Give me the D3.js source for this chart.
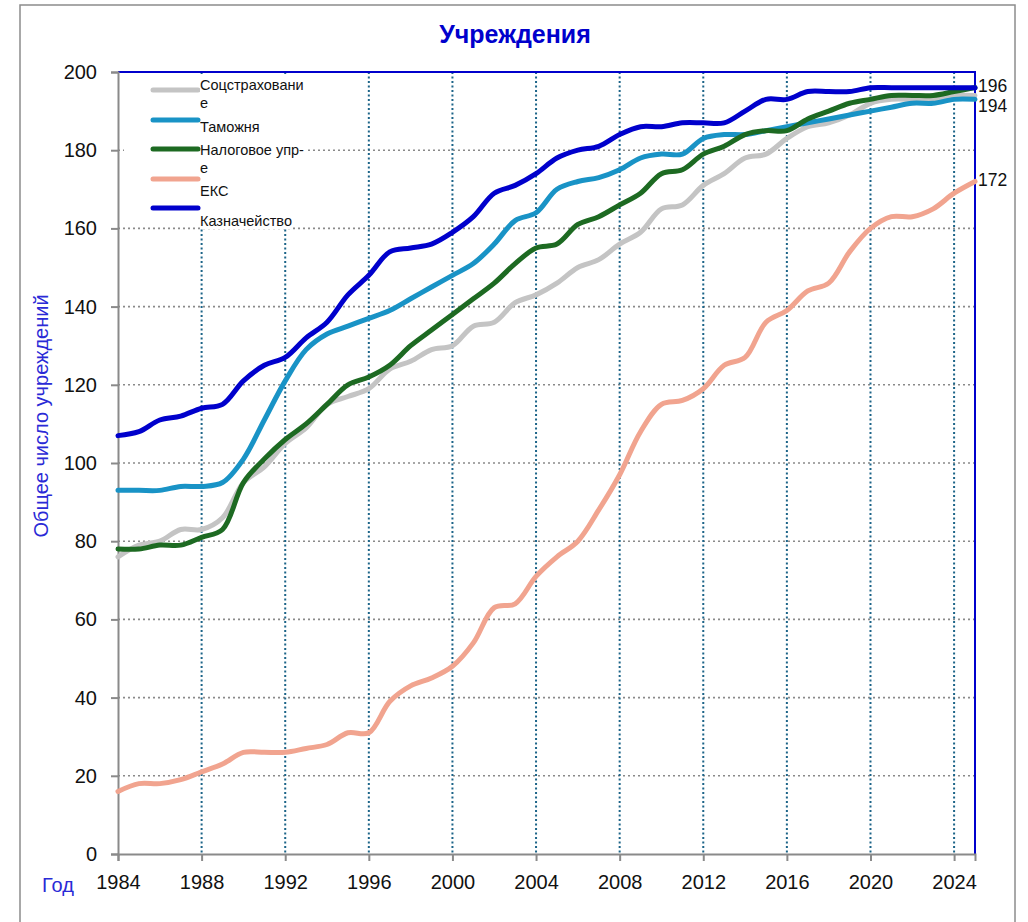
<!DOCTYPE html>
<html>
<head>
<meta charset="utf-8">
<script src="https://cdn.jsdelivr.net/npm/d3@7"></script>
<style>
  html, body { margin: 0; padding: 0; background: #fff; }
  svg { display: block; font-family: "Liberation Sans", Arial, sans-serif; }
</style>
</head>
<body>
<div id="chart"></div>
<script>
/* =========================================
   Учреждения — число учреждений по годам
   Smoothed lines, Excel-like frame
   ========================================= */

const years = [1984, 1985, 1986, 1987, 1988, 1989, 1990, 1991, 1992, 1993, 1994,
  1995, 1996, 1997, 1998, 1999, 2000, 2001, 2002, 2003, 2004, 2005, 2006, 2007,
  2008, 2009, 2010, 2011, 2012, 2013, 2014, 2015, 2016, 2017, 2018, 2019, 2020,
  2021, 2022, 2023, 2024, 2025];

const socstrakh = [76, 79, 80, 83, 83, 86, 95, 99, 105, 109, 115, 117, 119, 124, 126,
  129, 130, 135, 136, 141, 143, 146, 150, 152, 156, 159, 165, 166, 171, 174, 178, 179,
  183, 186, 187, 189, 192, 193, 193, 193, 194, 194];
const tamozhnya = [93, 93, 93, 94, 94, 95, 101, 111, 121, 129, 133, 135, 137, 139, 142,
  145, 148, 151, 156, 162, 164, 170, 172, 173, 175, 178, 179, 179, 183, 184, 184, 185,
  186, 187, 188, 189, 190, 191, 192, 192, 193, 193];
const nalog = [78, 78, 79, 79, 81, 83, 95, 101, 106, 110, 115, 120, 122, 125, 130, 134,
  138, 142, 146, 151, 155, 156, 161, 163, 166, 169, 174, 175, 179, 181, 184, 185, 185,
  188, 190, 192, 193, 194, 194, 194, 195, 196];
const eks = [16, 18, 18, 19, 21, 23, 26, 26, 26, 27, 28, 31, 31, 39, 43, 45, 48, 54, 63,
  64, 71, 76, 80, 88, 97, 108, 115, 116, 119, 125, 127, 136, 139, 144, 146, 154, 160,
  163, 163, 165, 169, 172];
const kazna = [107, 108, 111, 112, 114, 115, 121, 125, 127, 132, 136, 143, 148, 154, 155,
  156, 159, 163, 169, 171, 174, 178, 180, 181, 184, 186, 186, 187, 187, 187, 190, 193,
  193, 195, 195, 195, 196, 196, 196, 196, 196, 196];

const seriesNames = ['Соцстраховани\nе', 'Таможня', 'Налоговое упр-\nе', 'ЕКС', 'Казначейство'];
const seriesColors = ['#c4c4c4', '#1993c6', '#1d6a22', '#f1a48f', '#0000cc'];
const seriesValues = [socstrakh, tamozhnya, nalog, eks, kazna];

const xTicks = [1984, 1988, 1992, 1996, 2000, 2004, 2008, 2012, 2016, 2020, 2024];
const yTicks = [0, 20, 40, 60, 80, 100, 120, 140, 160, 180, 200];
const endLabels = ['196', '194', '172'];
const endLabelValues = [196, 194, 172];

const W = 1028, H = 922;
const svg = d3.select('#chart').append('svg').attr('width', W).attr('height', H);

// ---- Outer frame ----
svg.append('rect')
  .attr('x', 20).attr('y', 5).attr('width', 995).attr('height', 940)
  .attr('fill', 'none').attr('stroke', '#8c8c8c').attr('stroke-width', 1.5);

// ---- Scales ----
const plotLeft = 118, plotRight = 975, plotTop = 72, plotBottom = 854;
const x = d3.scaleLinear().domain([1984, 2025]).range([plotLeft, plotRight]);
const y = d3.scaleLinear().domain([0, 200]).range([plotBottom, plotTop]);

// ---- Title ----
svg.append('text')
  .attr('x', 515).attr('y', 43)
  .attr('text-anchor', 'middle')
  .attr('font-size', '25px').attr('font-weight', 'bold')
  .attr('fill', '#0000cc')
  .text('Учреждения');

// ---- Grid ----
svg.append('g')
  .selectAll('line').data(yTicks.filter(d => d > 0 && d < 200)).join('line')
  .attr('x1', plotLeft).attr('x2', plotRight)
  .attr('y1', d => y(d)).attr('y2', d => y(d))
  .attr('stroke', '#8a8a8a').attr('stroke-width', 1.6)
  .attr('stroke-dasharray', '2 3');

svg.append('g')
  .selectAll('line').data(xTicks.filter(d => d > 1984)).join('line')
  .attr('x1', d => x(d)).attr('x2', d => x(d))
  .attr('y1', plotTop).attr('y2', plotBottom)
  .attr('stroke', '#1c6488').attr('stroke-width', 2)
  .attr('stroke-dasharray', '2 2.5');

// ---- Blue top/right border ----
svg.append('path')
  .attr('d', `M${plotLeft},${plotTop}H${plotRight}V${plotBottom}`)
  .attr('fill', 'none').attr('stroke', '#0000cc').attr('stroke-width', 2);

// ---- Axes ----
const yAxis = svg.append('g')
  .attr('transform', `translate(${plotLeft},0)`)
  .call(d3.axisLeft(y).tickValues(yTicks).tickSize(7).tickPadding(14).tickFormat(d3.format('d')));
yAxis.select('.domain').attr('stroke', '#8a8a8a').attr('stroke-width', 2);
yAxis.selectAll('.tick line').attr('stroke', '#8a8a8a').attr('stroke-width', 2);
yAxis.selectAll('text').attr('font-size', '20px').attr('fill', '#111')
  .attr('font-family', '"Liberation Sans", Arial, sans-serif');

const xAxis = svg.append('g')
  .attr('transform', `translate(0,${plotBottom})`)
  .call(d3.axisBottom(x).tickValues(xTicks).tickSize(7).tickPadding(14).tickFormat(d3.format('d')));
xAxis.select('.domain').attr('stroke', '#8a8a8a').attr('stroke-width', 2);
xAxis.selectAll('.tick line').attr('stroke', '#8a8a8a').attr('stroke-width', 2);
xAxis.selectAll('text').attr('font-size', '20px').attr('fill', '#111')
  .attr('font-family', '"Liberation Sans", Arial, sans-serif');

// ---- Axis titles ----
svg.append('text')
  .attr('x', 42).attr('y', 892)
  .attr('font-size', '20px').attr('fill', '#2a2ad6')
  .text('Год');

svg.append('text')
  .attr('transform', 'translate(48,416) rotate(-90)')
  .attr('text-anchor', 'middle')
  .attr('font-size', '20px').attr('fill', '#2a2ad6')
  .text('Общее число учреждений');

// ---- Lines ----
const line = d3.line()
  .x((_, i) => x(years[i]))
  .y(d => y(d))
  .curve(d3.curveCatmullRom.alpha(0.5));

svg.append('g')
  .selectAll('path').data(seriesValues).join('path')
  .attr('d', line)
  .attr('fill', 'none')
  .attr('stroke', (_, i) => seriesColors[i])
  .attr('stroke-width', 5)
  .attr('stroke-linejoin', 'round')
  .attr('stroke-linecap', 'round');

// ---- End labels (pushed apart so they don't overlap) ----
const labelGap = 20;
const labelY = [];
endLabelValues.forEach((v, i) => {
  let ly = y(v) - 2;
  if (i > 0 && ly - labelY[i - 1] < labelGap) ly = labelY[i - 1] + labelGap;
  labelY.push(ly);
});

svg.append('g')
  .selectAll('text').data(endLabels).join('text')
  .attr('x', plotRight + 3)
  .attr('y', (_, i) => labelY[i] + 6.5)
  .attr('font-size', '17.5px').attr('fill', '#111')
  .text(d => d);

// ---- Legend ----
const legend = svg.append('g');
legend.append('rect')
  .attr('x', 124).attr('y', 76).attr('width', 182).attr('height', 142)
  .attr('fill', '#fff');

const legendRowY = [90, 120, 149, 179, 208];
const legendTextY = [90, 132, 155, 196, 226];

legendRowY.forEach((ly, i) => {
  legend.append('line')
    .attr('x1', 153).attr('x2', 198)
    .attr('y1', ly).attr('y2', ly)
    .attr('stroke', seriesColors[i]).attr('stroke-width', 5)
    .attr('stroke-linecap', 'round');

  const t = legend.append('text')
    .attr('x', 200).attr('y', legendTextY[i])
    .attr('font-size', '14.5px').attr('fill', '#111');
  seriesNames[i].split('\n').forEach((part, j) => {
    t.append('tspan').attr('x', 200).attr('dy', j === 0 ? 0 : 18).text(part);
  });
  const bb = t.node().getBBox();
  legend.insert('rect', 'text')
    .attr('x', bb.x).attr('y', bb.y).attr('width', bb.width).attr('height', bb.height)
    .attr('fill', '#fff');
});
</script>
</body>
</html>
